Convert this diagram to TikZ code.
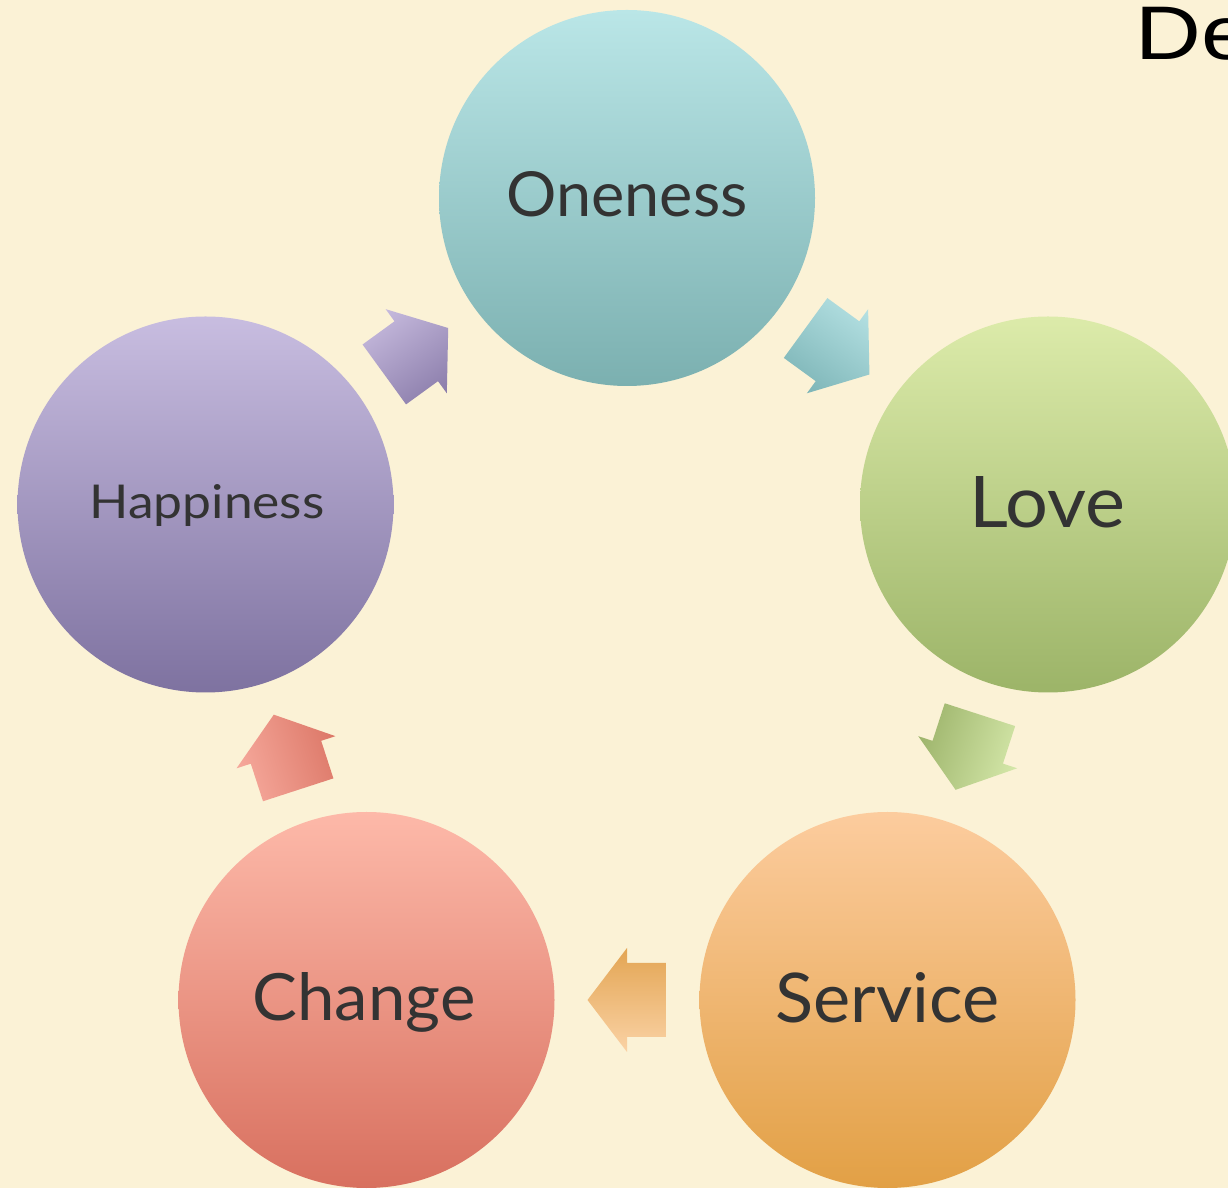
\documentclass[tikz,border=0pt]{standalone}
\usepackage{fontspec}
\setmainfont{Lato}
\newfontfamily\arialfont{Liberation Sans}
\usetikzlibrary{calc}
\definecolor{bg}{HTML}{FBF2D6}
\definecolor{txt}{HTML}{333333}
\definecolor{oneT}{HTML}{BAE6E7}\definecolor{oneB}{HTML}{7BB0B0}
\definecolor{loveT}{HTML}{DCEBAA}\definecolor{loveB}{HTML}{9CB468}
\definecolor{hapT}{HTML}{C8BDE0}\definecolor{hapB}{HTML}{7E72A0}
\definecolor{servT}{HTML}{FCCC9E}\definecolor{servB}{HTML}{E2A045}
\definecolor{chgT}{HTML}{FDB9A9}\definecolor{chgB}{HTML}{D8705F}
\definecolor{aPurL}{HTML}{C6BADD}\definecolor{aPurD}{HTML}{8A7CAA}
\definecolor{aCyaL}{HTML}{B5E1E3}\definecolor{aCyaD}{HTML}{7DB5B7}
\definecolor{aGrnL}{HTML}{D5E8AA}\definecolor{aGrnD}{HTML}{9DB46B}
\definecolor{aOrgL}{HTML}{FAD2A5}\definecolor{aOrgD}{HTML}{E3A553}
\definecolor{aPnkL}{HTML}{F6A99C}\definecolor{aPnkD}{HTML}{DC7767}
\newcommand\blkarrow[4]{%
  \begin{scope}[transform canvas={shift={(#1)}, rotate=#2}]
    \shade[top color=#3, bottom color=#4] (-39.5,-37) -- (0,-37) -- (0,-52) -- (39.5,0) -- (0,52) -- (0,37) -- (-39.5,37) -- cycle;
  \end{scope}}
\begin{document}
\begin{tikzpicture}[x=1pt,y=1pt,
  bubble/.style={circle, minimum size=376pt, inner sep=0pt, draw=none},
  lbl/.style={anchor=base, inner sep=0pt, text=txt, font=\fontsize{60}{72}\selectfont}]
\fill[bg] (0,0) rectangle (1228,1188);
\useasboundingbox (0,0) rectangle (1228,1188);
% circles
\node[bubble, top color=oneT, bottom color=oneB] (one) at (627,990) {};
\node[bubble, top color=loveT, bottom color=loveB] (love) at (1048,683.5) {};
\node[bubble, top color=hapT, bottom color=hapB] (hap) at (205.5,683.5) {};
\node[bubble, top color=servT, bottom color=servB] (serv) at (887.5,188) {};
\node[bubble, top color=chgT, bottom color=chgB] (chg) at (366.5,188) {};
% labels
\node[lbl] (tone) at ([yshift=-19pt]one.center) {\resizebox{241pt}{45pt}{Oneness}};
\node[lbl] (tlove) at ([xshift=-0.5pt,yshift=-23.5pt]love.center) {\resizebox{156pt}{51pt}{Love}};
\node[lbl] (thap) at ([xshift=1.5pt,yshift=-14.5pt]hap.center) {\resizebox{235pt}{34pt}{Happiness}};
\node[lbl] (tchg) at ([xshift=-2.5pt,yshift=-21pt]chg.center) {\resizebox{223pt}{48pt}{Change}};
\node[lbl] (tserv) at ([yshift=-23pt]serv.center) {\resizebox{224pt}{50pt}{Service}};
% arrow positions
\coordinate (m1) at ($(hap.center)!0.5!(one.center)$);
\coordinate (m2) at ($(one.center)!0.5!(love.center)$);
\coordinate (m3) at ($(love.center)!0.5!(serv.center)$);
\coordinate (m4) at ($(serv.center)!0.5!(chg.center)$);
\coordinate (m5) at ($(chg.center)!0.5!(hap.center)$);
\blkarrow{m1}{36}{aPurL}{aPurD}
\blkarrow{m2}{-36.06}{aCyaL}{aCyaD}
\blkarrow{m3}{-107.95}{aGrnL}{aGrnD}
\blkarrow{m4}{180}{aOrgL}{aOrgD}
\blkarrow{m5}{108}{aPnkL}{aPnkD}
% title fragment (cut off at the right edge as in the reference)
\node[anchor=base west, inner sep=0pt, font=\arialfont\fontsize{76}{90}\selectfont] (de) at (1135,1128) {\scalebox{1.2}[1]{De}};
\end{tikzpicture}
\end{document}
